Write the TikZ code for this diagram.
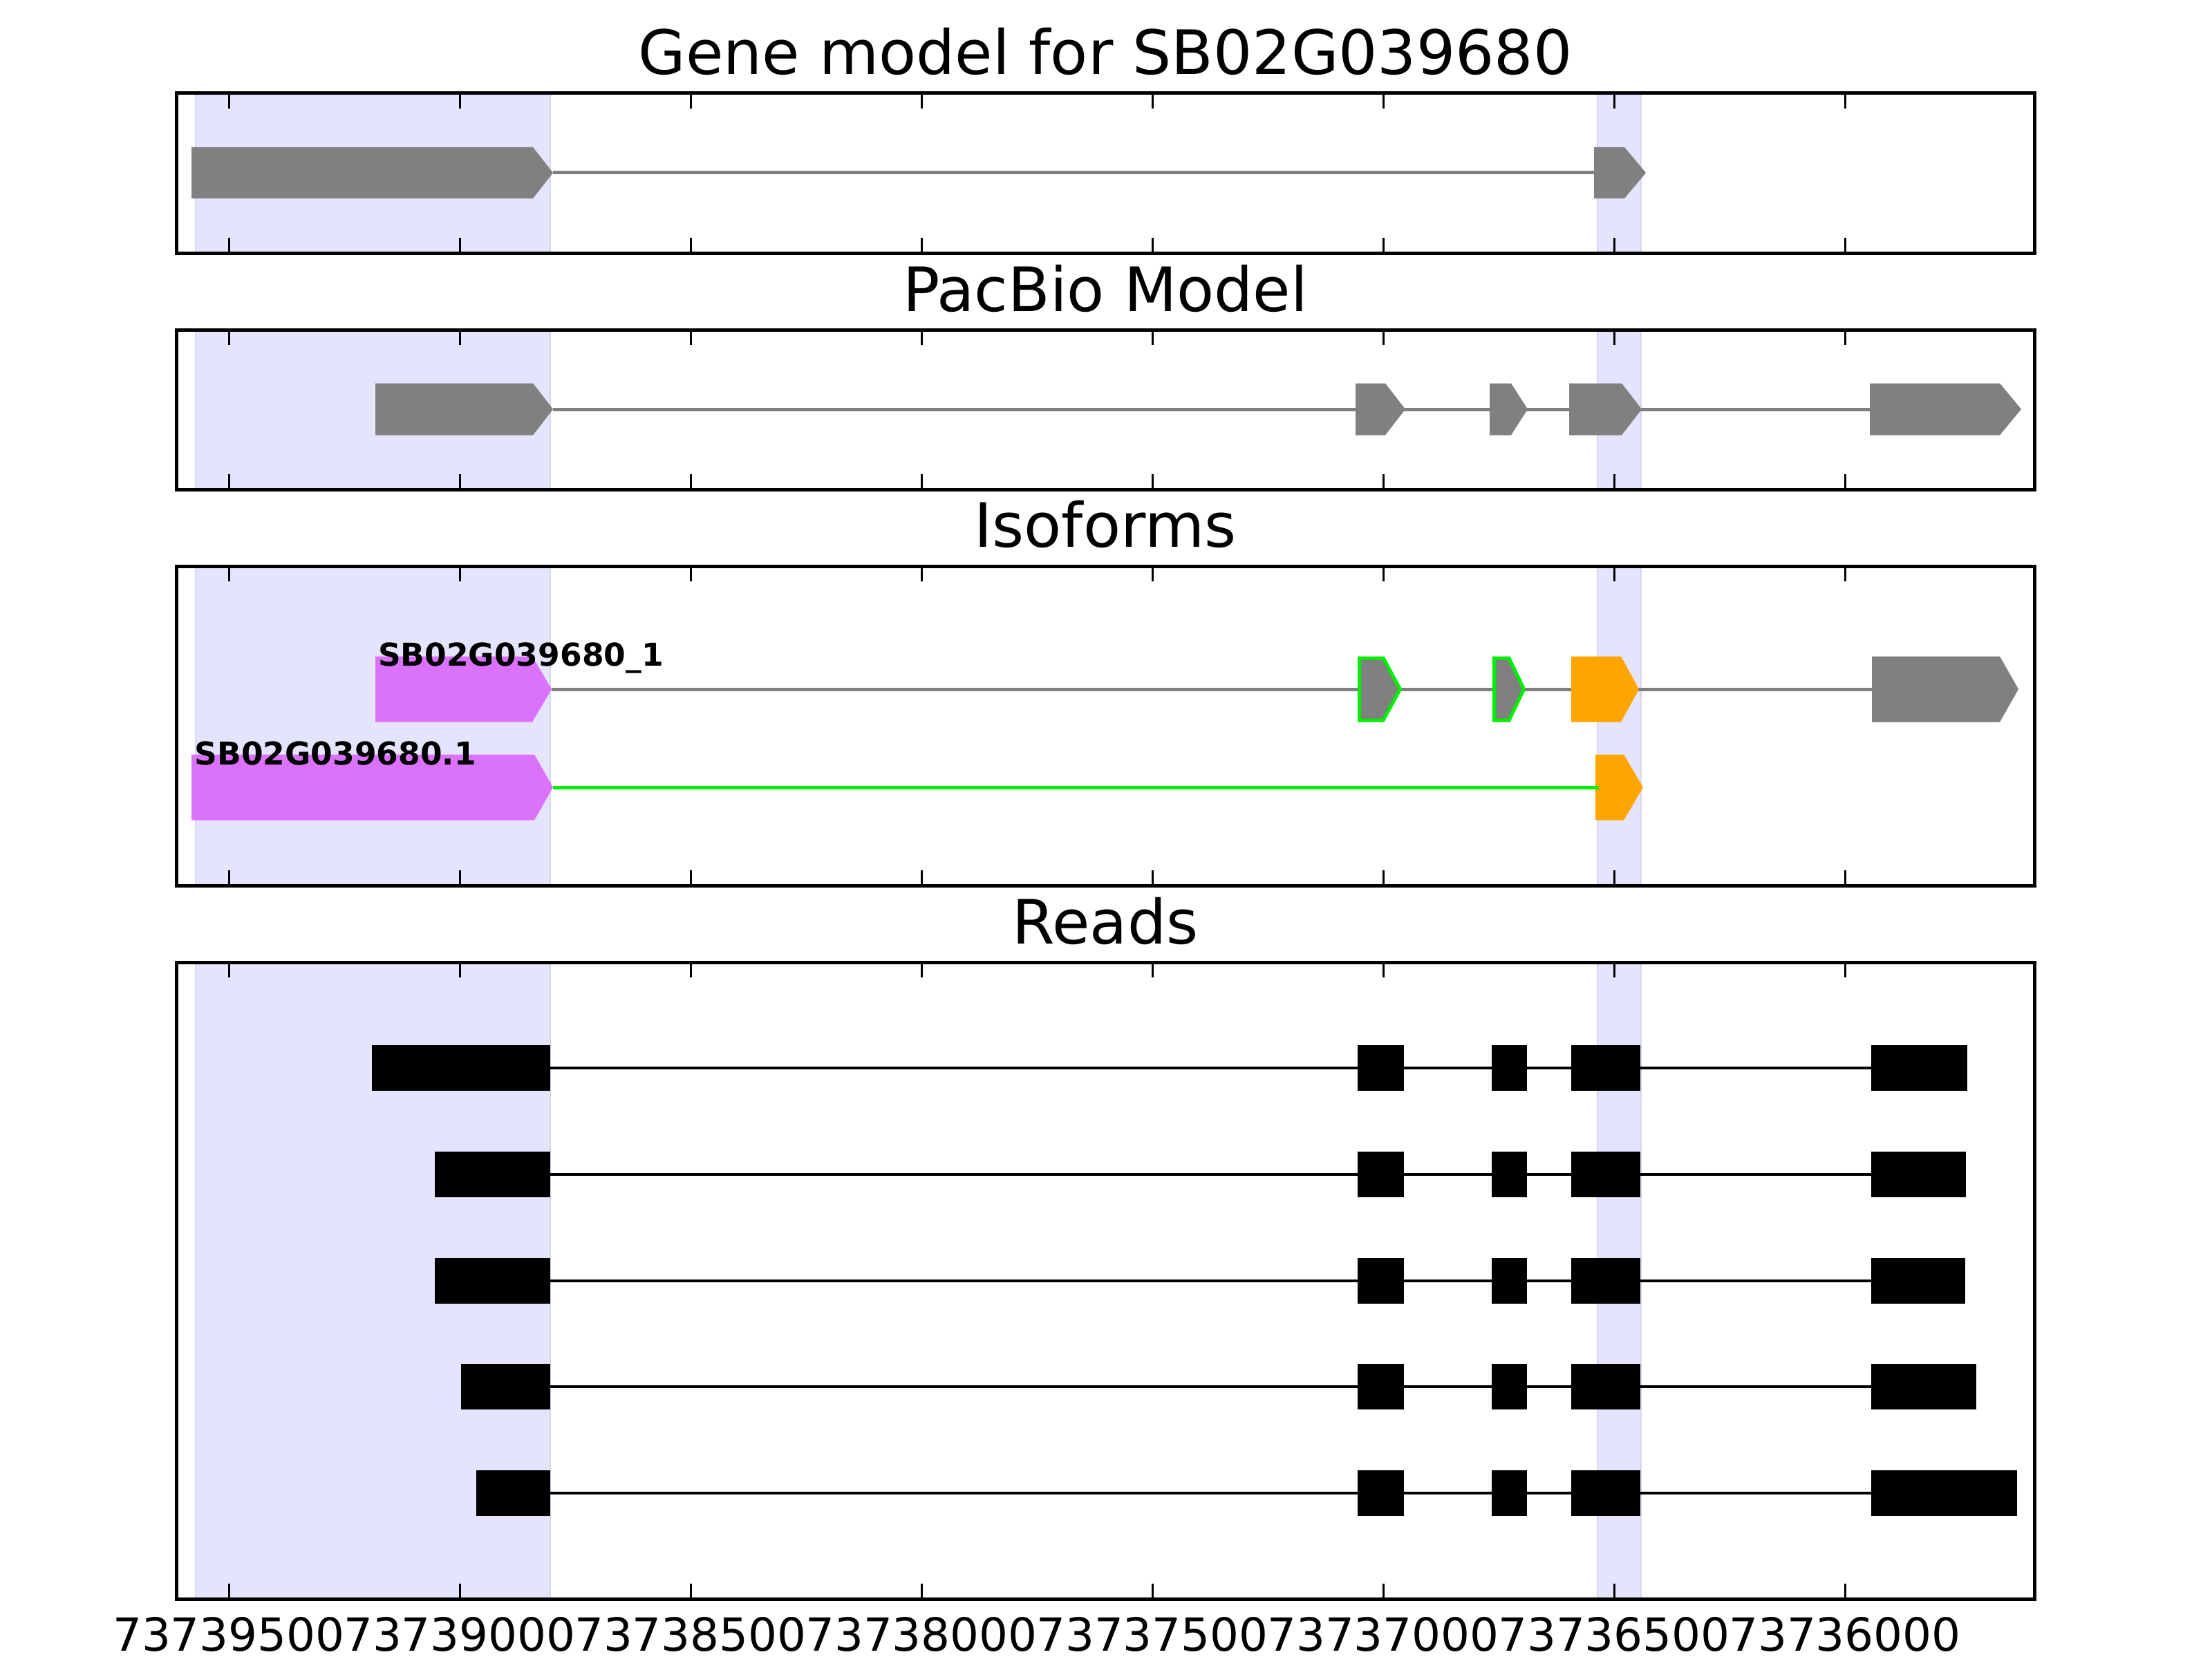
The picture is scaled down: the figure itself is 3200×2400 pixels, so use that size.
\documentclass[tikz,border=0pt]{standalone}
\usepackage{fontspec}
\setmainfont{DejaVu Sans}
\definecolor{band}{RGB}{228,228,253}
\definecolor{bandedge}{RGB}{214,214,238}
\definecolor{exgray}{RGB}{128,128,128}
\definecolor{mag}{RGB}{219,114,252}
\definecolor{grn}{RGB}{0,238,0}
\definecolor{org}{RGB}{255,165,0}
% #1 style, #2 left, #3 body end, #4 tip, #5 centre y, #6 half height
\newcommand{\exarrow}[6]{\path[#1] (#2,{#5-#6}) -- (#3,{#5-#6}) -- (#4,#5) -- (#3,{#5+#6}) -- (#2,{#5+#6}) -- cycle;}
\newcommand{\readbox}[3]{\fill[black] (#1,{#3-33}) rectangle (#2,{#3+33});}
\newcommand{\panelbands}[2]{%
  \path[fill=band, draw=bandedge, line width=2] (283,#1) rectangle (796,#2);
  \path[fill=band, draw=bandedge, line width=2] (2311,#1) rectangle (2374,#2);}
\newcommand{\panelframe}[2]{%
  \foreach \k in {0,...,7} {
    \draw[line width=3] ({331+334*\k},#1) -- ++(0,22);
    \draw[line width=3] ({331+334*\k},#2) -- ++(0,-22);
  }
  \draw[line width=5] (255,#1) rectangle (2943,#2);}
\tikzset{
  ttl/.style={anchor=base, inner sep=0, font=\fontsize{88.5}{88.5}\selectfont},
  tkl/.style={anchor=base, inner sep=0, font=\fontsize{66}{66}\selectfont},
  isol/.style={anchor=base west, inner sep=0, font=\bfseries\fontsize{45.5}{45.5}\selectfont},
  gintron/.style={draw=exgray, line width=5},
  rintron/.style={draw=black, line width=4.5}
}
\begin{document}
\begin{tikzpicture}[x=1pt,y=-1pt]
\useasboundingbox (0,0) rectangle (3200,2400);
\fill[white] (0,0) rectangle (3200,2400);

% ---------- Panel 1: Gene model ----------
\node[ttl] (t1) at (1599,108) {Gene model for SB02G039680};
\panelbands{135}{366}
\draw[gintron] (800,250) -- (2306,250);
\exarrow{fill=exgray}{277}{771}{800}{250}{37}
\exarrow{fill=exgray}{2306}{2350}{2381}{250}{37}
\panelframe{135}{366}

% ---------- Panel 2: PacBio Model ----------
\node[ttl] (t2) at (1599,450) {PacBio Model};
\panelbands{477}{708}
\draw[gintron] (800,592) -- (2705,592);
\exarrow{fill=exgray}{543}{771}{800}{592}{37.5}
\exarrow{fill=exgray}{1961}{2004}{2033}{592}{37.5}
\exarrow{fill=exgray}{2155}{2186}{2210}{592}{37.5}
\exarrow{fill=exgray}{2270}{2346}{2375}{592}{37.5}
\exarrow{fill=exgray}{2705}{2893}{2924}{592}{37.5}
\panelframe{477}{708}

% ---------- Panel 3: Isoforms ----------
\node[ttl] (t3) at (1599,791) {Isoforms};
\panelbands{819}{1281}
% isoform 1
\draw[gintron] (798,997) -- (2280,997);
\draw[gintron] (2368,997) -- (2708,997);
\exarrow{fill=mag}{543}{770}{798}{997}{47.5}
\exarrow{fill=exgray, draw=grn, line width=5, line join=miter}{1966.5}{2001}{2025.5}{997}{45}
\exarrow{fill=exgray, draw=grn, line width=5, line join=miter}{2161.5}{2183}{2204.5}{997}{45}
\exarrow{fill=org}{2273}{2345}{2371}{997}{47.5}
\exarrow{fill=exgray}{2708}{2893}{2920}{997}{47.5}
\node[isol] (iso1) at (547,963) {SB02G039680\_1};
% isoform 2
\exarrow{fill=mag}{277}{773}{800}{1139}{47.5}
\exarrow{fill=org}{2308}{2349}{2377}{1139}{47.5}
\draw[draw=grn, line width=5] (800,1139) -- (2313,1139);
\node[isol] (iso2) at (281.5,1106) {SB02G039680.1};
\panelframe{819}{1281}

% ---------- Panel 4: Reads ----------
\node[ttl] (t4) at (1599,1365) {Reads};
\panelbands{1392}{2313}
\foreach \y/\a/\b in {1545/538/2846, 1699/629/2844, 1853/629/2843, 2006/667/2859, 2160/689/2918} {
  \draw[rintron] (796,\y) -- (2707,\y);
  \readbox{\a}{796}{\y}
  \readbox{1963.5}{2030.5}{\y}
  \readbox{2157.5}{2208.7}{\y}
  \readbox{2272.5}{2372.5}{\y}
  \readbox{2707}{\b}{\y}
}
\panelframe{1392}{2313}

% ---------- x axis labels ----------
\node[tkl] (x0) at (331,2388) {73739500};
\node[tkl] (x1) at (665,2388) {73739000};
\node[tkl] (x2) at (999,2388) {73738500};
\node[tkl] (x3) at (1333,2388) {73738000};
\node[tkl] (x4) at (1667,2388) {73737500};
\node[tkl] (x5) at (2001,2388) {73737000};
\node[tkl] (x6) at (2335,2388) {73736500};
\node[tkl] (x7) at (2669,2388) {73736000};
\end{tikzpicture}
\end{document}
